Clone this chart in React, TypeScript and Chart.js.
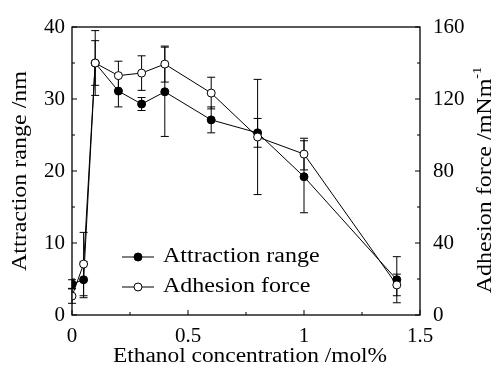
import React, { useEffect, useRef } from "react";
import { Chart, registerables } from "chart.js";

Chart.register(...registerables);

const xValues = [0, 0.05, 0.1, 0.2, 0.3, 0.4, 0.6, 0.8, 1.0, 1.4];
const attractionRange = [4.3, 4.9, 35, 31.1, 29.3, 31, 27.1, 25.3, 19.2, 4.9];
const attractionErr = [0.6, 2.5, 3.1, 2.2, 0.9, 6.2, 1.8, 2.0, 5.0, 3.2];
const adhesionForce = [10.5, 28.3, 140, 133, 134.4, 139.4, 123.3, 98.9, 89.4, 16.7];
const adhesionErr = [4, 17.6, 18, 8, 9.6, 10, 8.8, 32, 8.8, 6];

const xTickValues = [0, 0.5, 1, 1.5];
const leftTickValues = [0, 10, 20, 30, 40];
const rightTickValues = [0, 40, 80, 120, 160];

const legendLabels = ["Attraction range", "Adhesion force"];
const xTitle = "Ethanol concentration /mol%";
const leftTitle = "Attraction range /nm";
const rightTitle = "Adhesion force /mNm";
const rightTitleSup = "-1";

const FONT = '"Liberation Serif", "Times New Roman", serif';

function stretchedText(ctx: CanvasRenderingContext2D, text: string, x: number, y: number, size: number, sx: number, rot: number, align: CanvasTextAlign) {
  ctx.save();
  ctx.translate(x, y);
  ctx.rotate(rot);
  ctx.scale(sx, 1);
  ctx.font = `${size}px ${FONT}`;
  ctx.textAlign = align;
  ctx.textBaseline = "middle";
  ctx.fillStyle = "#000";
  ctx.fillText(text, 0, 0);
  ctx.restore();
}

const decorPlugin = {
  id: "decor",
  beforeDatasetsDraw(chart: any) {
    const ctx = chart.ctx as CanvasRenderingContext2D;
    const xs = chart.scales.x;
    const sets = [
      { vals: attractionRange, errs: attractionErr, scale: chart.scales.y },
      { vals: adhesionForce, errs: adhesionErr, scale: chart.scales.y2 },
    ];
    ctx.save();
    ctx.strokeStyle = "#000";
    ctx.lineWidth = 1;
    for (const s of sets) {
      s.vals.forEach((v, i) => {
        const px = xs.getPixelForValue(xValues[i]);
        const top = s.scale.getPixelForValue(v + s.errs[i]);
        const bot = s.scale.getPixelForValue(Math.max(0, v - s.errs[i]));
        ctx.beginPath();
        ctx.moveTo(px, top);
        ctx.lineTo(px, bot);
        ctx.moveTo(px - 4, top);
        ctx.lineTo(px + 4, top);
        ctx.moveTo(px - 4, bot);
        ctx.lineTo(px + 4, bot);
        ctx.stroke();
      });
    }
    ctx.restore();
  },
  afterDraw(chart: any) {
    const ctx = chart.ctx as CanvasRenderingContext2D;
    const a = chart.chartArea;
    const xs = chart.scales.x;
    const ys = chart.scales.y;
    const y2 = chart.scales.y2;
    ctx.save();
    ctx.strokeStyle = "#000";
    ctx.lineWidth = 1.3;
    ctx.strokeRect(a.left, a.top, a.right - a.left, a.bottom - a.top);
    ctx.lineWidth = 1;
    ctx.beginPath();
    for (let i = 0; i < xTickValues.length; i++) {
      const p = xs.getPixelForValue(xTickValues[i]);
      ctx.moveTo(p, a.bottom);
      ctx.lineTo(p, a.bottom - 5);
      if (i < xTickValues.length - 1) {
        const m = xs.getPixelForValue((xTickValues[i] + xTickValues[i + 1]) / 2);
        ctx.moveTo(m, a.bottom);
        ctx.lineTo(m, a.bottom - 3);
      }
    }
    for (let i = 0; i < leftTickValues.length; i++) {
      const p = ys.getPixelForValue(leftTickValues[i]);
      ctx.moveTo(a.left, p);
      ctx.lineTo(a.left + 5, p);
      if (i < leftTickValues.length - 1) {
        const m = ys.getPixelForValue((leftTickValues[i] + leftTickValues[i + 1]) / 2);
        ctx.moveTo(a.left, m);
        ctx.lineTo(a.left + 3, m);
      }
    }
    for (let i = 0; i < rightTickValues.length; i++) {
      const p = y2.getPixelForValue(rightTickValues[i]);
      ctx.moveTo(a.right, p);
      ctx.lineTo(a.right - 5, p);
      if (i < rightTickValues.length - 1) {
        const m = y2.getPixelForValue((rightTickValues[i] + rightTickValues[i + 1]) / 2);
        ctx.moveTo(a.right, m);
        ctx.lineTo(a.right - 3, m);
      }
    }
    ctx.stroke();

    // legend
    const rows = [257, 287];
    const fills = ["#000", "#fff"];
    rows.forEach((ry, i) => {
      ctx.beginPath();
      ctx.moveTo(122, ry);
      ctx.lineTo(154, ry);
      ctx.stroke();
      ctx.beginPath();
      ctx.arc(138, ry, 4, 0, Math.PI * 2);
      ctx.fillStyle = fills[i];
      ctx.fill();
      ctx.stroke();
      stretchedText(ctx, legendLabels[i], 163, ry, 20, 1.2, 0, "left");
    });

    // axis titles
    stretchedText(ctx, xTitle, (a.left + a.right) / 2 + 4, 357, 20, 1.17, 0, "center");
    stretchedText(ctx, leftTitle, 21, 171, 20, 1.2, -Math.PI / 2, "center");

    // right title with superscript
    ctx.save();
    ctx.translate(486, 180);
    ctx.rotate(-Math.PI / 2);
    ctx.scale(1.2, 1);
    ctx.font = `20px ${FONT}`;
    const w1 = ctx.measureText(rightTitle).width;
    ctx.font = `12px ${FONT}`;
    const w2 = ctx.measureText(rightTitleSup).width;
    const start = -(w1 + w2) / 2;
    ctx.fillStyle = "#000";
    ctx.textBaseline = "middle";
    ctx.textAlign = "left";
    ctx.font = `20px ${FONT}`;
    ctx.fillText(rightTitle, start, 0);
    ctx.font = `12px ${FONT}`;
    ctx.fillText(rightTitleSup, start + w1, -8);
    ctx.restore();

    ctx.restore();
  },
};

export default function App() {
  const ref = useRef<HTMLCanvasElement | null>(null);
  useEffect(() => {
    if (!ref.current) return;
    const tickFont = { family: FONT, size: 21 };
    const chart = new Chart(ref.current, {
      type: "line",
      data: {
        datasets: [
          {
            label: legendLabels[0],
            data: xValues.map((x, i) => ({ x, y: attractionRange[i] })),
            yAxisID: "y",
            borderColor: "#000",
            borderWidth: 1,
            pointRadius: 4,
            pointBackgroundColor: "#000",
            pointBorderColor: "#000",
            pointBorderWidth: 1,
            tension: 0,
            order: 1,
          },
          {
            label: legendLabels[1],
            data: xValues.map((x, i) => ({ x, y: adhesionForce[i] })),
            yAxisID: "y2",
            borderColor: "#000",
            borderWidth: 1,
            pointRadius: 4,
            pointBackgroundColor: "#fff",
            pointBorderColor: "#000",
            pointBorderWidth: 1,
            tension: 0,
            order: 0,
          },
        ],
      },
      options: {
        responsive: false,
        animation: false,
        devicePixelRatio: 1,
        layout: { padding: { top: 27, left: 0, right: 0, bottom: 0 } },
        plugins: { legend: { display: false }, tooltip: { enabled: false } },
        elements: { line: { fill: false } },
        scales: {
          x: {
            type: "linear",
            min: 0,
            max: 1.5,
            afterBuildTicks: (s: any) => {
              s.ticks = xTickValues.map((v) => ({ value: v }));
            },
            ticks: { font: tickFont, color: "#000", padding: 9, callback: (v: any) => String(v), maxRotation: 0 },
            grid: { display: false, drawTicks: false },
            border: { display: false },
            afterFit: (s: any) => {
              s.height = 50;
            },
          },
          y: {
            type: "linear",
            position: "left",
            min: 0,
            max: 40,
            afterBuildTicks: (s: any) => {
              s.ticks = leftTickValues.map((v) => ({ value: v }));
            },
            ticks: { font: tickFont, color: "#000", padding: 7 },
            grid: { display: false, drawTicks: false },
            border: { display: false },
            afterFit: (s: any) => {
              s.width = 72;
            },
          },
          y2: {
            type: "linear",
            position: "right",
            min: 0,
            max: 160,
            afterBuildTicks: (s: any) => {
              s.ticks = rightTickValues.map((v) => ({ value: v }));
            },
            ticks: { font: tickFont, color: "#000", padding: 13 },
            grid: { display: false, drawTicks: false },
            border: { display: false },
            afterFit: (s: any) => {
              s.width = 76;
            },
          },
        },
      },
      plugins: [decorPlugin],
    } as any);
    return () => chart.destroy();
  }, []);
  return (
    <div style={{ position: "absolute", left: 0, top: 0, width: 496, height: 365, background: "#fff" }}>
      <canvas ref={ref} width={496} height={365} style={{ width: 496, height: 365 }} />
    </div>
  );
}
